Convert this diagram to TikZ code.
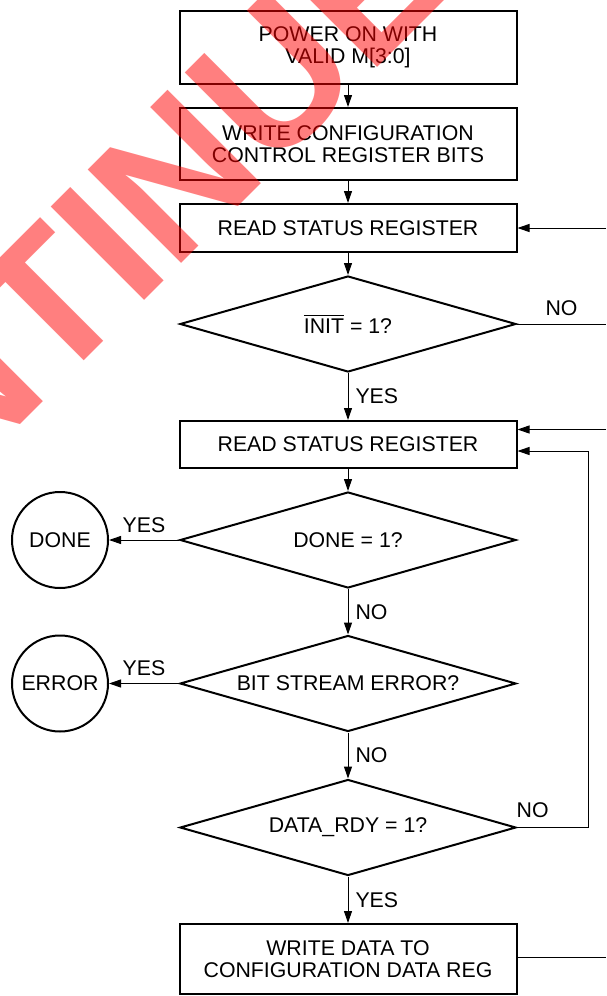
\documentclass[tikz,border=0pt]{standalone}
\usepackage{fontspec}
\setmainfont{Liberation Sans}
\usetikzlibrary{shapes.geometric,arrows.meta}
\newsavebox\ovbox
\newcommand\ovbar[1]{\sbox\ovbox{#1}\rlap{\rule[\dimexpr\ht\ovbox+2.5pt\relax]{\wd\ovbox}{1.2pt}}\usebox\ovbox}
\begin{document}
\begin{tikzpicture}[x=1pt,y=-1pt,
  every node/.style={font=\fontsize{21.3}{22}\selectfont, inner sep=0pt},
  box/.style={draw, line width=2pt, minimum width=337pt, align=center},
  dec/.style={draw, diamond, line width=2pt, aspect=3.5, minimum width=336pt, minimum height=96pt},
  term/.style={draw, circle, line width=2pt, minimum size=96pt},
  conn/.style={line width=1pt},
  arr/.style={conn, -{Triangle[length=12pt,width=8pt]}},
  lab/.style={font=\fontsize{21.3}{22}\selectfont},
  wmark/.style={font=\fontsize{192}{192}\selectfont\bfseries, text=red, text opacity=0.5, inner sep=0pt}
]
\useasboundingbox (0,0) rectangle (606,996);

\node[box, minimum height=73pt] (b1) at (348,47.5) {POWER ON WITH\\VALID M[3:0]};
\node[box, minimum height=72pt] (b2) at (348,144) {WRITE CONFIGURATION\\CONTROL REGISTER BITS};
\node[box, minimum height=48pt] (b3) at (348,228) {READ STATUS REGISTER};
\node[dec] (d1) at (348,324) {\ovbar{INIT} = 1?};
\node[box, minimum height=47pt] (b4) at (348,444.5) {READ STATUS REGISTER};
\node[dec] (d2) at (348,540) {DONE = 1?};
\node[dec] (d3) at (348,683.5) {BIT STREAM ERROR?};
\node[dec] (d4) at (348,827.5) {DATA\_RDY = 1?};
\node[box, minimum height=70pt] (b5) at (348,959) {WRITE DATA TO\\CONFIGURATION DATA REG};
\node[term] (done) at (60,540) {DONE};
\node[term] (err) at (60,683.5) {ERROR};

\draw[arr] (b1.south) -- (b2.north);
\draw[arr] (b2.south) -- (b3.north);
\draw[arr] (b3.south) -- (d1.north);
\draw[arr] (d1.south) -- node[lab, right=7pt] {YES} (b4.north);
\draw[arr] (b4.south) -- (d2.north);
\draw[arr] (d2.south) -- node[lab, right=7pt] {NO} (d3.north);
\draw[arr] (d3.south) -- node[lab, right=7pt] {NO} (d4.north);
\draw[arr] (d4.south) -- node[lab, right=7pt] {YES} (b5.north);
\draw[arr] (d2.west) -- node[lab, above=7pt] {YES} (done.east);
\draw[arr] (d3.west) -- node[lab, above=7pt] {YES} (err.east);

\coordinate (r1) at (606,228);
\draw[arr] (r1) -- (b3.east);
\coordinate (r2) at (606,324);
\draw[conn] (d1.east) -- node[lab, above=8pt] {NO} (r2);
\coordinate (r3) at (606,429.5);
\draw[arr] (r3) -- (b4.east |- r3);
\coordinate (r4) at (588,827.5);
\coordinate (r5) at (588,451);
\draw[arr] (d4.east) -- node[lab, pos=0.22, above=9pt] {NO} (r4) -- (r5) -- (b4.east |- r5);
\coordinate (r6) at (606,957);
\draw[conn] (b5.east |- r6) -- (r6);

\begin{scope}
\clip (0,0) rectangle (606,996);
\node[wmark, anchor=base west, rotate=45] (wm) at (-476,921) {DISCONTINUED};
\end{scope}
\end{tikzpicture}
\end{document}
